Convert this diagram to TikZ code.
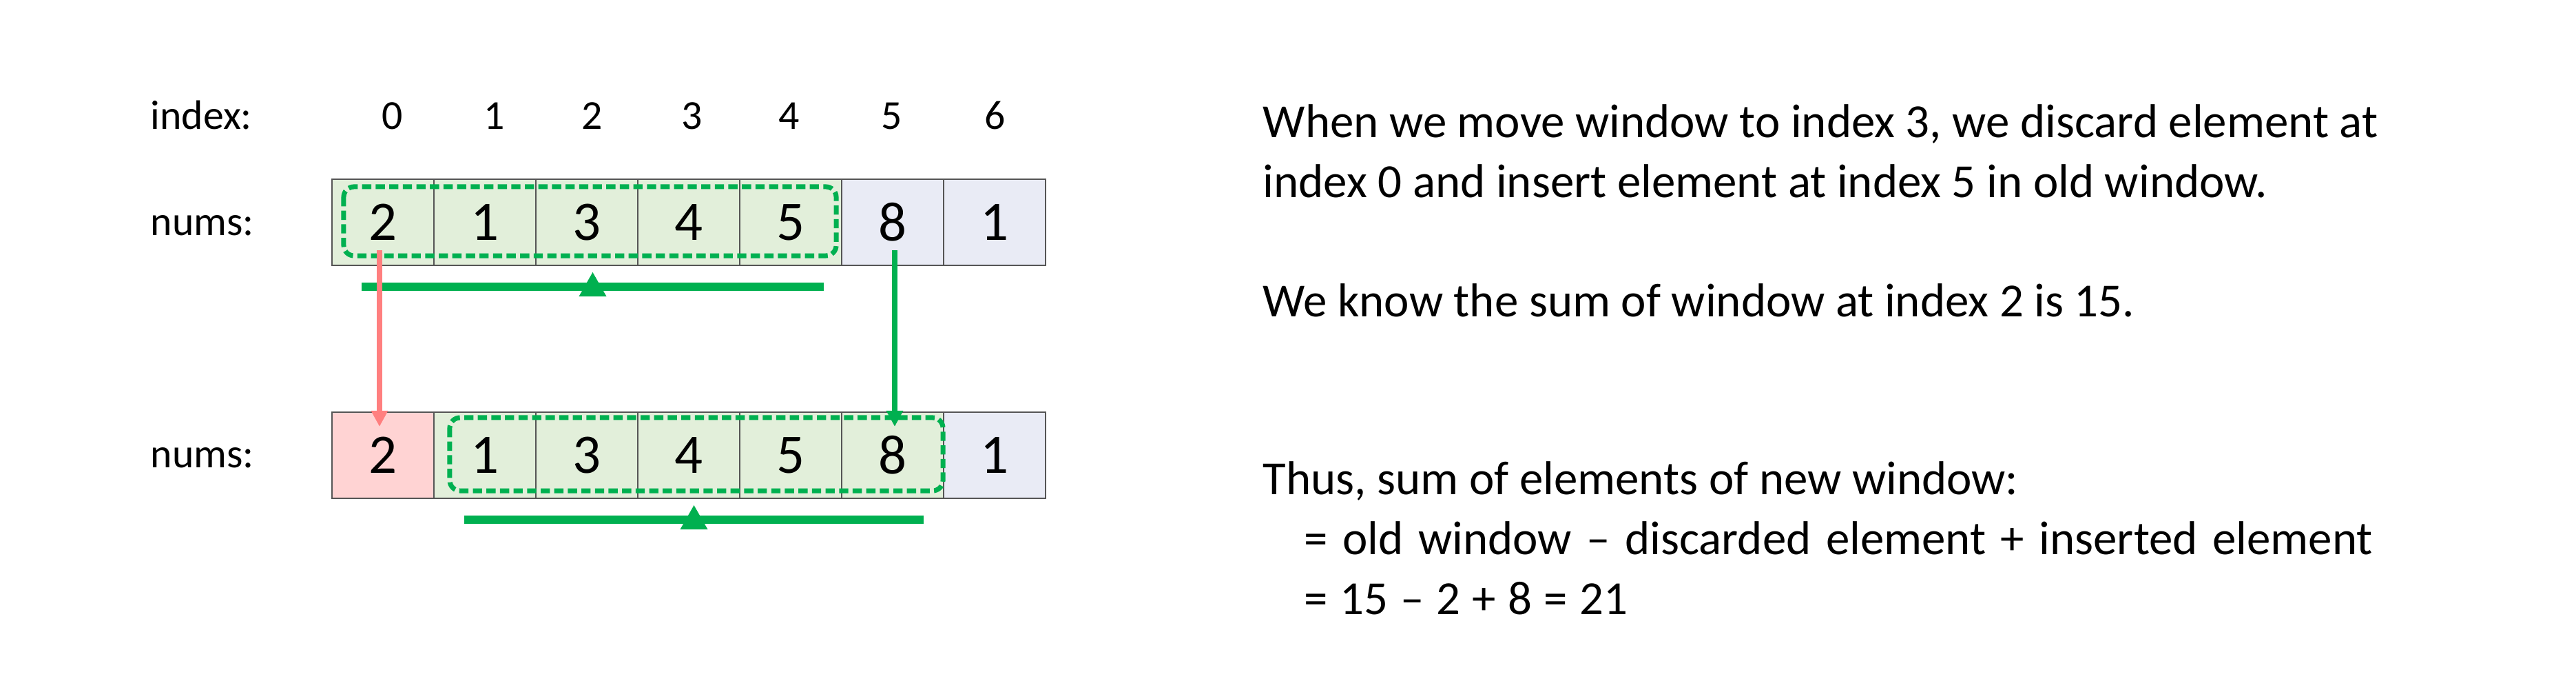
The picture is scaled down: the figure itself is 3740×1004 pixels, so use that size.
\documentclass[tikz,border=0pt]{standalone}
\usepackage{fontspec}
\setmainfont{Carlito}
\usetikzlibrary{calc,arrows.meta}
\definecolor{wgreen}{HTML}{00B050}
\definecolor{cgreen}{HTML}{E2EFDA}
\definecolor{cblue}{HTML}{E9EBF5}
\definecolor{cred}{HTML}{FFD3D3}
\definecolor{ared}{HTML}{FF7F7F}
\definecolor{cborder}{HTML}{555555}
\tikzset{
  cell/.style={minimum width=1.48cm, minimum height=1.25cm, inner sep=0pt, outer sep=0pt,
    draw=cborder, line width=0.4pt, font=\fontsize{23}{28}\selectfont},
  lbl/.style={inner sep=0pt, anchor=base west, font=\fontsize{17}{20}\selectfont},
  idx/.style={inner sep=0pt, anchor=base, font=\fontsize{17}{20}\selectfont},
  txt/.style={inner sep=0pt, anchor=base west, font=\fontsize{19.6}{24}\selectfont},
  window/.style={draw=wgreen, line width=2pt, dash pattern=on 3.8pt off 1.8pt, rounded corners=0.15cm},
  bar/.style={draw=wgreen, line width=3.2pt},
  movearrow/.style={line width=2.3pt, -{Triangle[width=0.23cm,length=0.23cm]}},
  rim/.style={draw=cborder, line width=0.8pt}
}
\begin{document}
\begin{tikzpicture}[x=0.01cm,y=-0.01cm]
\useasboundingbox (0,0) rectangle (3740,1004);
% labels
\node[lbl] (lidx) at (218,188) {index:};
\node[lbl] (lnum1) at (218,342) {nums:};
\node[lbl] (lnum2) at (218,679) {nums:};
\foreach \i/\x in {0/570,1/718,2/860,3/1005,4/1146,5/1295,6/1445}{
  \node[idx] (i\i) at (\x,188) {\i};
}
% top array
\foreach \i/\v/\c in {0/2/cgreen,1/1/cgreen,2/3/cgreen,3/4/cgreen,4/5/cgreen,5/8/cblue,6/1/cblue}{
  \node[cell, fill=\c] (t\i) at (556+148*\i,322.5) {\v};
}
% bottom array
\foreach \i/\v/\c in {0/2/cred,1/1/cgreen,2/3/cgreen,3/4/cgreen,4/5/cgreen,5/8/cgreen,6/1/cblue}{
  \node[cell, fill=\c] (b\i) at (556+148*\i,660.5) {\v};
}
\draw[rim] (t0.north west) -- (t6.north east);
\draw[rim] (t0.south west) -- (t6.south east);
\draw[rim] (b0.north west) -- (b6.north east);
\draw[rim] (b0.south west) -- (b6.south east);
% windows
\draw[window] ($(t0.north west)+(17,11)$) rectangle ($(t4.south east)+(-8,-14)$);
\draw[window] ($(b1.north west)+(23,8)$) rectangle ($(b5.south east)+(-1,-11)$);
% bars
\coordinate (ba1) at ($(t0.south)+(-31,31)$);
\coordinate (bb1) at ($(t4.south)+(48,31)$);
\coordinate (bm1) at ($(ba1)!0.5!(bb1)$);
\draw[bar] (ba1) -- (bb1);
\fill[wgreen] ($(bm1)+(-20,14)$) -- ($(bm1)+(0,-21)$) -- ($(bm1)+(20,14)$) -- cycle;
\coordinate (ba2) at ($(b1.south)+(-30,31)$);
\coordinate (bb2) at ($(b5.south)+(45,31)$);
\coordinate (bm2) at ($(ba2)!0.5!(bb2)$);
\draw[bar] (ba2) -- (bb2);
\fill[wgreen] ($(bm2)+(-20,14)$) -- ($(bm2)+(0,-21)$) -- ($(bm2)+(20,14)$) -- cycle;
% move arrows
\draw[movearrow, draw=ared, fill=ared] ($(t0.south)+(-5,-22)$) -- ($(b0.north)+(-5,21)$);
\draw[movearrow, draw=wgreen, fill=wgreen] ($(t5.south)+(3,-22)$) -- ($(b5.north)+(3,21)$);
% text
\node[txt] (x1) at (1833,200) {When we move window to index 3, we discard element at};
\node[txt] (x2) at (1833,287) {index 0 and insert element at index 5 in old window.};
\node[txt] (x3) at (1833,460) {We know the sum of window at index 2 is 15.};
\node[txt] (x4) at (1833,718) {Thus, sum of elements of new window:};
\node[txt] (x5) at (1893,805) {\spaceskip=6.1pt\relax = old window – discarded element + inserted element};
\node[txt] (x6) at (1893,892) {\spaceskip=5pt\relax = 15 – 2 + 8 = 21};
\end{tikzpicture}
\end{document}
